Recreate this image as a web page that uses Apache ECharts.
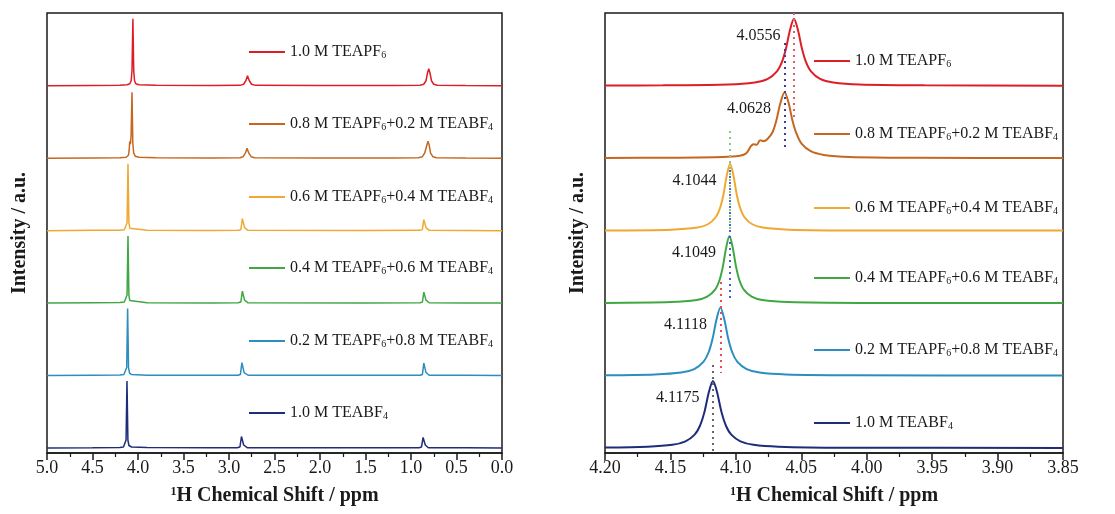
<!DOCTYPE html>
<html>
<head>
<meta charset="utf-8">
<script src="https://cdn.jsdelivr.net/npm/echarts@6/dist/echarts.min.js"></script>
<style>
  html, body { margin: 0; padding: 0; background: #fff; }
  #main { width: 1115px; height: 514px; }
</style>
</head>
<body>
<div id="main"></div>
<script>
  // sample names, top to bottom
  const names = [
    '1.0 M TEAPF6',
    '0.8 M TEAPF6+0.2 M TEABF4',
    '0.6 M TEAPF6+0.4 M TEABF4',
    '0.4 M TEAPF6+0.6 M TEABF4',
    '0.2 M TEAPF6+0.8 M TEABF4',
    '1.0 M TEABF4'
  ]

  // full range spectra [ppm, intensity]
  const wideRed = [[5,0],[4.5,0.3],[4.2,0.5],[4.12,1],[4.09,2],[4.075,5],[4.066,15],[4.056,67],[4.047,15],[4.038,5],[4.024,2],[3.99,1],[3.8,0.4],[3.2,0.2],[2.88,0.4],[2.84,1.5],[2.815,5],[2.797,10],[2.777,5],[2.752,1.5],[2.71,0.4],[2,0.2],[1.2,0.2],[0.9,0.5],[0.86,1.5],[0.835,5],[0.818,13],[0.805,17],[0.792,13],[0.775,5],[0.75,1.5],[0.71,0.5],[0.4,0.2],[0,0]]
  const wideOrange = [[5,0],[4.5,0.3],[4.2,0.5],[4.13,1],[4.105,3],[4.097,8],[4.091,17],[4.084,14],[4.076,22],[4.066,66],[4.057,15],[4.047,5],[4.03,2],[3.99,1],[3.8,0.4],[3.2,0.2],[2.88,0.4],[2.845,1.5],[2.82,5],[2.802,10],[2.782,5],[2.757,1.5],[2.72,0.4],[2,0.2],[1.2,0.2],[0.92,0.5],[0.875,1.5],[0.85,5],[0.826,13],[0.813,17],[0.8,13],[0.785,5],[0.76,1.5],[0.72,0.5],[0.4,0.2],[0,0]]
  const wideYellow = [[5,0],[4.5,0.3],[4.2,0.5],[4.15,1],[4.13,2.5],[4.12,8],[4.11,67],[4.1,8],[4.09,2.5],[4.07,1],[3.9,0.4],[3.2,0.2],[2.9,0.3],[2.87,1],[2.858,3],[2.853,12],[2.847,13],[2.84,12.5],[2.834,12],[2.829,3],[2.818,1],[2.79,0.3],[1.5,0.2],[0.9,0.3],[0.875,1],[0.864,3],[0.859,11],[0.853,12],[0.846,11.5],[0.84,11],[0.835,3],[0.824,1],[0.8,0.3],[0.4,0.2],[0,0]]
  const wideGreen = [[5,0],[4.5,0.3],[4.2,0.5],[4.15,1],[4.13,2.5],[4.12,8],[4.11,67],[4.1,8],[4.09,2.5],[4.07,1],[3.9,0.4],[3.2,0.2],[2.9,0.3],[2.87,1],[2.858,3],[2.853,12],[2.847,13],[2.84,12.5],[2.834,12],[2.829,3],[2.818,1],[2.79,0.3],[1.5,0.2],[0.9,0.3],[0.875,1],[0.864,3],[0.859,11],[0.853,11.5],[0.846,11.5],[0.84,11],[0.835,3],[0.824,1],[0.8,0.3],[0.4,0.2],[0,0]]
  const wideBlue = [[5,0],[4.5,0.3],[4.2,0.5],[4.155,1],[4.135,2.5],[4.124,8],[4.114,67],[4.104,8],[4.093,2.5],[4.07,1],[3.9,0.4],[3.2,0.2],[2.9,0.3],[2.875,1],[2.863,3],[2.858,13],[2.852,13.7],[2.845,13],[2.839,12.5],[2.834,3],[2.823,1],[2.79,0.3],[1.5,0.2],[0.9,0.3],[0.875,1],[0.864,3],[0.859,12.5],[0.853,13],[0.846,12.5],[0.84,12],[0.835,3],[0.824,1],[0.8,0.3],[0.4,0.2],[0,0]]
  const wideNavy = [[5,0],[4.5,0.3],[4.2,0.6],[4.16,1],[4.142,2.5],[4.131,8],[4.121,67],[4.111,8],[4.1,2.5],[4.07,1],[3.9,0.4],[3.2,0.2],[2.91,0.3],[2.88,1],[2.868,3],[2.863,11.5],[2.857,12.3],[2.85,12],[2.844,11.5],[2.839,3],[2.828,1],[2.8,0.3],[1.5,0.2],[0.91,0.3],[0.885,1],[0.872,3],[0.867,10.5],[0.861,11.3],[0.854,11],[0.848,10.5],[0.843,3],[0.832,1],[0.81,0.3],[0.4,0.2],[0,0]]

  // zoomed spectra 4.20 - 3.85 ppm
  const zoomRed = [[4.2,0.2],[4.1556,0.4],[4.1056,1.2],[4.0856,3.3],[4.0756,6.9],[4.0686,14.4],[4.0646,24.4],[4.0616,37.7],[4.0586,56],[4.0556,67],[4.0526,56],[4.0496,37.7],[4.0466,24.4],[4.0426,14.4],[4.0356,6.9],[4.0256,3.3],[4.0056,1.2],[3.9556,0.4],[3.85,0.1]]
  const zoomOrange = [[4.2,0.2],[4.15,0.5],[4.11,1.2],[4.097,2.5],[4.092,5],[4.0885,12],[4.0865,14],[4.084,13.5],[4.0815,18],[4.079,17],[4.076,19],[4.072,26],[4.069,38],[4.066,55],[4.0628,66],[4.0598,56],[4.0568,38],[4.0538,25],[4.0498,14.5],[4.0428,7],[4.0328,3.3],[4.0128,1.2],[3.9628,0.4],[3.85,0.1]]
  const zoomYellow = [[4.2,0.2],[4.1494,1],[4.1294,3.1],[4.1214,6.4],[4.1154,13.4],[4.1119,23.4],[4.1094,36.7],[4.1069,55.5],[4.1044,67],[4.1019,55.5],[4.0994,36.7],[4.0969,23.4],[4.0934,13.4],[4.0874,6.4],[4.0794,3.1],[4.0594,1],[4.0044,0.2],[3.85,0.1]]
  const zoomGreen = [[4.2,0.2],[4.1499,1],[4.1299,3.1],[4.1219,6.4],[4.1159,13.4],[4.1124,23.4],[4.1099,36.7],[4.1074,55.5],[4.1049,67],[4.1024,55.5],[4.0999,36.7],[4.0974,23.4],[4.0939,13.4],[4.0879,6.4],[4.0799,3.1],[4.0599,1],[4.0049,0.2],[3.85,0.1]]
  const zoomBlue = [[4.2,0.3],[4.1618,1.1],[4.1418,3],[4.1318,6.5],[4.1248,13.6],[4.1208,23.3],[4.1178,36.7],[4.1148,56],[4.1118,68],[4.1088,56],[4.1058,36.7],[4.1028,23.3],[4.0988,13.6],[4.0918,6.5],[4.0818,3],[4.0618,1.1],[4.0118,0.3],[3.85,0.1]]
  const zoomNavy = [[4.2,0.5],[4.1675,1.3],[4.1485,3.2],[4.1385,6.7],[4.1315,13.4],[4.1275,22],[4.124,36],[4.1205,56.6],[4.1175,67],[4.1145,56.6],[4.111,36],[4.1075,22],[4.1035,13.4],[4.0965,6.7],[4.0865,3.2],[4.0675,1.3],[4.0175,0.3],[3.85,0.1]]

  const wideSpectra = [wideRed, wideOrange, wideYellow, wideGreen, wideBlue, wideNavy]
  const zoomSpectra = [zoomRed, zoomOrange, zoomYellow, zoomGreen, zoomBlue, zoomNavy]

  // peak annotations
  const peakShifts = [4.0556, 4.0628, 4.1044, 4.1049, 4.1118, 4.1175]
  const peakHeights = [67, 66, 67, 67, 68, 67]
  const peakLabels = ['4.0556', '4.0628', '4.1044', '4.1049', '4.1118', '4.1175']

  // dotted guide lines: ppm, from, to (intensity units of the stack)
  const guideShifts = [4.0556, 4.0628, 4.1044, 4.1049, 4.1118, 4.1175]
  const guideFrom = [435, 405, 317, 278, 166, 83]
  const guideTo = [330, 298, 218, 146, 75, -5]

  const colors = ['#dc1f26', '#c6671f', '#f0a832', '#3fa843', '#2c8dbf', '#1f2c7a']
  const guideColors = ['#e0606e', '#3a3aa8', '#86c986', '#4a5fd0', '#ec4b52', '#666666']
  const STEP = 72.45
  const FONT = "'Liberation Serif', 'Times New Roman', serif"
  const INK = '#1a1a1a'

  const myechart = echarts.init(document.getElementById('main'))

  const series = []
  names.forEach((name, i) => {
    const off = (5 - i) * STEP
    series.push({
      name: name,
      type: 'line',
      xAxisIndex: 0,
      yAxisIndex: 0,
      symbol: 'none',
      color: colors[i],
      lineStyle: { color: colors[i], width: 1.5 },
      data: wideSpectra[i].map(p => [p[0], p[1] + off]),
      animation: false
    })
  })
  names.forEach((name, i) => {
    const off = (5 - i) * STEP
    const s = {
      name: name,
      type: 'line',
      xAxisIndex: 1,
      yAxisIndex: 1,
      symbol: 'none',
      smooth: 0.3,
      color: colors[i],
      lineStyle: { color: colors[i], width: 2 },
      data: zoomSpectra[i].map(p => [p[0], p[1] + off]),
      markPoint: {
        symbol: 'circle',
        symbolSize: 1,
        silent: true,
        itemStyle: { color: 'rgba(0,0,0,0)' },
        label: {
          show: true,
          position: 'left',
          distance: 13,
          offset: [0, 17],
          formatter: '{c}',
          color: INK,
          fontSize: 16,
          fontFamily: FONT
        },
        data: [{ coord: [peakShifts[i], peakHeights[i] + off], value: peakLabels[i] }]
      },
      animation: false
    }
    if (i === 5) {
      s.markLine = {
        silent: true,
        symbol: ['none', 'none'],
        label: { show: false },
        lineStyle: { type: [2, 4], width: 2 },
        data: guideShifts.map((g, k) => [
          { coord: [g, guideFrom[k]], lineStyle: { color: guideColors[k], type: [2, 4], width: 2 } },
          { coord: [g, guideTo[k]] }
        ])
      }
    }
    series.push(s)
  })

  const legendTopsLeft = [52, 124, 197, 268, 341, 413]
  const legendTopsRight = [61, 134, 208, 278, 350, 423]
  const legends = []
  names.forEach((name, i) => {
    const base = {
      data: [name],
      orient: 'vertical',
      padding: 0,
      icon: 'rect',
      itemWidth: 36,
      itemHeight: 2,
      selectedMode: false,
      formatter: n => n.replace(/F(\d)/g, 'F{s|$1}'),
      textStyle: {
        color: INK,
        fontSize: 16,
        fontFamily: FONT,
        lineHeight: 16,
        rich: {
          s: { fontSize: 10, fontFamily: FONT, color: INK, verticalAlign: 'bottom', lineHeight: 9 }
        }
      }
    }
    legends.push(Object.assign({}, base, { left: 249, top: legendTopsLeft[i] - 8 }))
    legends.push(Object.assign({}, base, { left: 814, top: legendTopsRight[i] - 8 }))
  })

  function xAxisOf(grid, min, max, interval, digits) {
    return {
      type: 'value',
      gridIndex: grid,
      min: min,
      max: max,
      interval: interval,
      inverse: true,
      splitLine: { show: false },
      axisLine: { onZero: false, lineStyle: { color: INK, width: 1.5 } },
      axisTick: { length: 7, lineStyle: { color: INK, width: 1.5 } },
      minorTick: { show: true, splitNumber: 2, length: 4, lineStyle: { color: INK, width: 1.2 } },
      axisLabel: {
        formatter: v => v.toFixed(digits),
        color: INK,
        fontSize: 18,
        fontFamily: FONT,
        margin: 6
      },
      name: '{sup|1}H Chemical Shift / ppm',
      nameLocation: 'middle',
      nameGap: 33,
      nameTextStyle: {
        color: INK,
        fontSize: 20,
        fontWeight: 'bold',
        fontFamily: FONT,
        rich: {
          sup: { fontSize: 12, fontWeight: 'bold', fontFamily: FONT, color: INK, verticalAlign: 'top', lineHeight: 12 }
        }
      }
    }
  }

  function yAxisOf(grid) {
    return {
      type: 'value',
      gridIndex: grid,
      min: -5,
      max: 435,
      axisLine: { show: false },
      axisTick: { show: false },
      axisLabel: { show: false },
      splitLine: { show: false },
      name: 'Intensity / a.u.',
      nameLocation: 'middle',
      nameGap: 17,
      nameTextStyle: { color: INK, fontSize: 20, fontWeight: 'bold', fontFamily: FONT }
    }
  }

  let option = {
    backgroundColor: '#fff',
    animation: false,
    grid: [
      { left: 47, width: 455, top: 13, bottom: 61, show: true, borderColor: INK, borderWidth: 1.5 },
      { left: 605, width: 458, top: 13, bottom: 61, show: true, borderColor: INK, borderWidth: 1.5 }
    ],
    legend: legends,
    xAxis: [xAxisOf(0, 0, 5, 0.5, 1), xAxisOf(1, 3.85, 4.2, 0.05, 2)],
    yAxis: [yAxisOf(0), yAxisOf(1)],
    series: series
  }
  myechart.setOption(option)
</script>
</body>
</html>
